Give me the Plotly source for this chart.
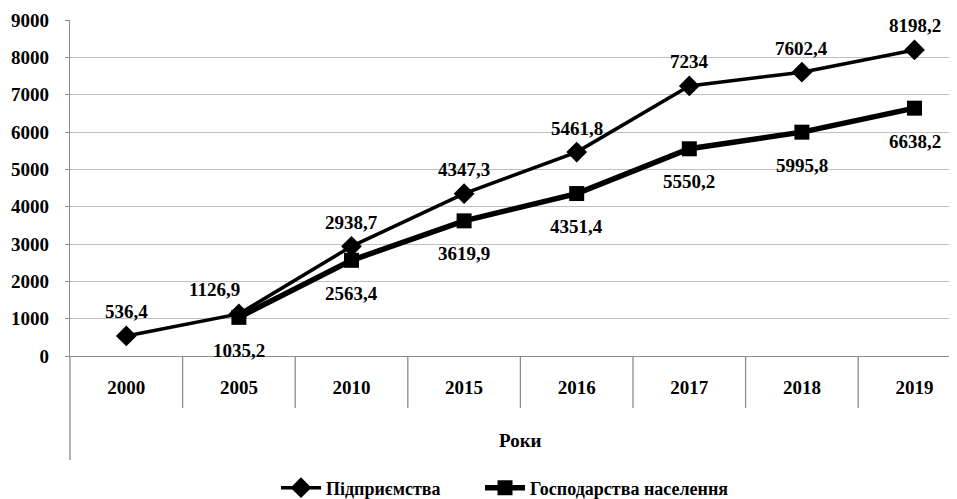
import plotly.graph_objects as go

years = ["2000", "2005", "2010", "2015", "2016", "2017", "2018", "2019"]
enterprises = [536.4, 1126.9, 2938.7, 4347.3, 5461.8, 7234, 7602.4, 8198.2]
households = [None, 1035.2, 2563.4, 3619.9, 4351.4, 5550.2, 5995.8, 6638.2]
name_ent = "Підприємства"
name_hh = "Господарства населення"
x_title = "Роки"
y_ticks = list(range(0, 9001, 1000))

FONT = "Liberation Serif"
OFF = 8  # page body margin
W, H = 957 - OFF, 499 - OFF
ML, MT = 70 - OFF, 20 - OFF
PLOT_BOTTOM = 356 - OFF
MB = H - PLOT_BOTTOM
plot_h = H - MT - MB

def fmt(v):
    s = f"{v:.1f}".replace(".", ",")
    return s[:-2] if s.endswith(",0") else s

fig = go.Figure()
fig.add_trace(go.Scatter(
    x=years, y=enterprises, name=name_ent, mode="lines+markers",
    line=dict(color="black", width=3.5),
    marker=dict(symbol="diamond", size=16, color="black"),
    legend="legend",
))
fig.add_trace(go.Scatter(
    x=years, y=households, name=name_hh, mode="lines+markers",
    line=dict(color="black", width=5.5),
    marker=dict(symbol="square", size=15, color="black"),
    legend="legend2",
))

lab_font = dict(family=FONT, size=19, color="black", weight="bold")
annos = []
for i, v in enumerate(enterprises):
    annos.append(dict(x=i, y=v, xref="x", yref="y", text=fmt(v), showarrow=False,
                      yshift=24, xshift=-24 if i == 1 else 0, font=lab_font))
for i, v in enumerate(households):
    if v is None:
        continue
    annos.append(dict(x=i, y=v, xref="x", yref="y", text=fmt(v), showarrow=False,
                      yshift=-33, font=lab_font))
annos.append(dict(x=3.5, y=-(440 - 356) / plot_h, xref="x", yref="paper", text=x_title,
                  showarrow=False, yanchor="middle",
                  font=dict(family=FONT, size=19, color="black", weight="bold")))

shapes = []
for i in range(len(years)):
    shapes.append(dict(type="line", xref="x", yref="paper", x0=i + 0.5, x1=i + 0.5,
                       y0=0, y1=-(408 - 356) / plot_h, line=dict(color="#8c8c8c", width=1.3)))
shapes.append(dict(type="line", xref="paper", yref="paper", x0=0, x1=0,
                   y0=0, y1=-(460 - 356) / plot_h, line=dict(color="#8c8c8c", width=1.3)))

leg_common = dict(orientation="h", xref="container", yref="container", xanchor="left",
                  y=(499 - 488) / H, yanchor="middle", itemwidth=40,
                  font=dict(family=FONT, size=18, color="black", weight="bold"))

n_visible = (W - ML) / 112.6
fig.update_layout(
    width=W, height=H,
    margin=dict(l=ML, r=0, t=MT, b=MB, autoexpand=False),
    paper_bgcolor="white", plot_bgcolor="white",
    showlegend=True,
    legend=dict(x=(276 - OFF) / W, **leg_common),
    legend2=dict(x=(480 - OFF) / W, **leg_common),
    annotations=annos, shapes=shapes,
    xaxis=dict(type="category", range=[-0.5, -0.5 + n_visible], showgrid=False,
               automargin=False,
               showline=True, linecolor="#8c8c8c", linewidth=1.3, ticks="",
               ticklabelstandoff=14,
               tickfont=dict(family=FONT, size=19, color="black", weight="bold")),
    yaxis=dict(range=[0, 9000], tickvals=y_ticks, showgrid=True, gridcolor="#c0c0c0",
               automargin=False,
               gridwidth=1.3, showline=True, linecolor="#8c8c8c", linewidth=1.3,
               zeroline=False, ticks="outside", ticklen=4, tickcolor="#8c8c8c",
               ticklabelstandoff=12,
               tickfont=dict(family=FONT, size=19, color="black", weight="bold")),
)

fig.write_html("out.html")
